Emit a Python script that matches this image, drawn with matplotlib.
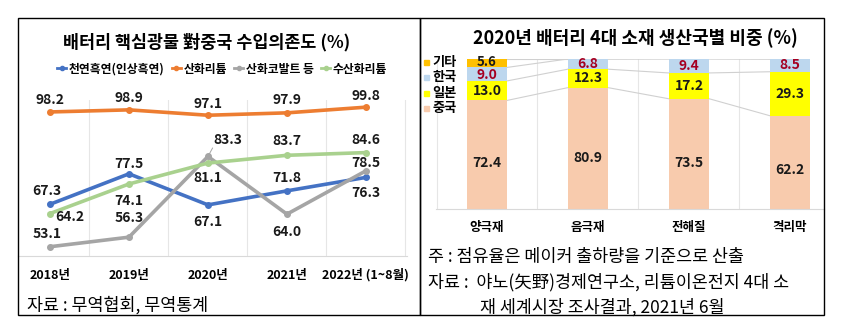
import matplotlib
matplotlib.use("Agg")
import matplotlib.pyplot as plt
from matplotlib.lines import Line2D
from matplotlib.patches import Rectangle
import numpy as np

plt.rcParams['font.family'] = ['Noto Sans CJK KR', 'DejaVu Sans']

# --- 왼쪽: 배터리 핵심광물 對중국 수입의존도 ---
years = ["2018년", "2019년", "2020년", "2021년", "2022년 (1~8월)"]
graphite = [67.3, 77.5, 67.1, 71.8, 76.3]
li_oxide = [98.2, 98.9, 97.1, 97.9, 99.8]
cobalt = [53.1, 56.3, 83.3, 64.0, 78.5]
li_hydroxide = [64.2, 74.1, 81.1, 83.7, 84.6]
line_names = ["천연흑연(인상흑연)", "산화리튬", "산화코발트 등", "수산화리튬"]

# --- 오른쪽: 2020년 배터리 4대 소재 생산국별 비중 ---
materials = ["양극재", "음극재", "전해질", "격리막"]
china = [72.4, 80.9, 73.5, 62.2]
japan = [13.0, 12.3, 17.2, 29.3]
korea = [9.0, 6.8, 9.4, 8.5]
others = [5.6, 0.0, 0.0, 0.0]
bar_names = ["중국", "일본", "한국", "기타"]

W, H = 860, 333
fig = plt.figure(figsize=(W / 100, H / 100), dpi=100)


def px_axes(x0, y0, x1, y1):
    # 픽셀 좌표(위에서부터)로 axes 생성
    return fig.add_axes([x0 / W, 1 - y1 / H, (x1 - x0) / W, (y1 - y0) / H])


# 패널 테두리
for x0, x1 in [(18, 420), (420, 824)]:
    fig.patches.append(Rectangle((x0 / W, 1 - 315 / H), (x1 - x0) / W, (315 - 18) / H,
                                 transform=fig.transFigure, fill=False,
                                 edgecolor="black", linewidth=1.0))

# ----- 왼쪽 선 그래프 -----
ax = px_axes(18, 100, 407, 256)
x = np.arange(len(years))
colors = ["#4472C4", "#ED7D31", "#A5A5A5", "#A9D18E"]
series = [graphite, li_oxide, cobalt, li_hydroxide]
for ys, c in zip(series, colors):
    ax.plot(x, ys, color=c, linewidth=2.6, marker="o", markersize=4)
ax.set_xlim(-0.405, 4.52)
ax.set_ylim(50, 102.2)
for g in [0.5, 1.5, 2.5, 3.5, 4.5]:
    ax.axvline(g, color="#E6E6E6", linewidth=0.8, zorder=0)
for s in ["top", "left", "right"]:
    ax.spines[s].set_visible(False)
ax.spines["bottom"].set_color("#D9D9D9")
ax.set_yticks([])
ax.set_xticks(x)
ax.set_xticklabels(years, fontsize=9, fontweight="bold")
ax.tick_params(axis="x", length=0, pad=9)

lab = dict(fontsize=10, fontweight="bold", ha="center", va="center", color="#1a1a1a")
# 라벨 오프셋(픽셀)
offs = {
    0: [(-3, 13), (0, 10), (0, -17), (0, 13), (0, -16)],
    1: [(0, 12), (0, 12), (0, 11), (0, 13), (0, 11)],
    2: [(-3, 13), (0, 19), (20, 16), (0, -18), (0, 8)],
    3: [(20, -3), (0, -17), (0, -15), (0, 14), (0, 13)],
}
for si, ys in enumerate(series):
    for i, v in enumerate(ys):
        dx, dy = offs[si][i]
        ax.annotate(f"{v:.1f}", (x[i], v), xytext=(dx, dy), textcoords="offset pixels", **lab)
# 83.3 지시선
ax.annotate("", (x[2], cobalt[2]), xytext=(6, 11), textcoords="offset pixels",
            arrowprops=dict(arrowstyle="-", color="#A5A5A5", linewidth=0.7))

fig.text(207 / W, 1 - 42 / H, "배터리 핵심광물 對중국 수입의존도 (%)", fontsize=12.5,
         fontweight="bold", ha="center", va="center")
handles = [Line2D([0], [0], color=c, linewidth=2, marker="o", markersize=3) for c in colors]
fig.legend(handles, line_names, loc="center", bbox_to_anchor=(222 / W, 1 - 69 / H),
           ncol=4, frameon=False, handlelength=0.8, handletextpad=0.2,
           columnspacing=0.6, prop=dict(weight="bold", size=8.5))
fig.text(27 / W, 1 - 305 / H, "자료 : 무역협회, 무역통계", fontsize=12.5,
         ha="left", va="center")

# ----- 오른쪽 누적 막대 -----
bx = px_axes(436, 59, 824, 209)
xb = np.arange(len(materials))
bw = 0.4
stack = [china, japan, korea, others]
bcols = ["#F8CBAD", "#FFFF00", "#BDD7EE", "#FFC000"]
bottom = np.zeros(len(materials))
tops = []
for vals, c in zip(stack, bcols):
    vals = np.array(vals)
    bx.bar(xb, vals, bw, bottom=bottom, color=c, zorder=2)
    bottom = bottom + vals
    tops.append(bottom.copy())
# 계열선
for t in tops:
    for i in range(len(materials) - 1):
        bx.plot([xb[i] + bw / 2, xb[i + 1] - bw / 2], [t[i], t[i + 1]],
                color="#D0D0D0", linewidth=0.8, zorder=1)
# 값 라벨
lbl_col = ["#1a1a1a", "#1a1a1a", "#A50021", "#1a1a1a"]
nudge = [0, 0, -0.6, 0.6]
base = np.zeros(len(materials))
for k, vals in enumerate(stack):
    for i, v in enumerate(vals):
        if v > 0:
            yc = base[i] + v / 2
            if k == 0:
                yc = base[i] + v * 0.42
            fs = 10 if v > 6 else 9.5
            bx.text(xb[i], yc + (nudge[k] if i == 0 else 0), f"{v:.1f}", ha="center",
                    va="center", fontsize=fs, fontweight="bold", color=lbl_col[k], zorder=3)
    base = base + np.array(vals)
bx.set_xlim(-0.505, 3.337)
bx.set_ylim(0, 100)
for g in [-0.5, 0.5, 1.5, 2.5]:
    bx.axvline(g, color="#E6E6E6", linewidth=0.8, zorder=0)
for s in ["top", "left", "right"]:
    bx.spines[s].set_visible(False)
bx.spines["bottom"].set_color("#D9D9D9")
bx.set_yticks([])
bx.set_xticks(xb)
bx.set_xticklabels(materials, fontsize=9, fontweight="bold")
bx.tick_params(axis="x", length=0, pad=9)

fig.text(635 / W, 1 - 38 / H, "2020년 배터리 4대 소재 생산국별 비중 (%)", fontsize=13,
         fontweight="bold", ha="center", va="center")
# 범례 (위에서부터 기타, 한국, 일본, 중국)
for j, (name, c) in enumerate(zip(bar_names[::-1], bcols[::-1])):
    yy = 62 + j * 15.5
    fig.patches.append(Rectangle((424 / W, 1 - (yy + 2.5) / H), 5 / W, 5 / H,
                                 transform=fig.transFigure, color=c))
    fig.text(432 / W, 1 - yy / H, name, fontsize=9.5, fontweight="bold",
             ha="left", va="center")

fig.text(428 / W, 1 - 257 / H, "주 : 점유율은 메이커 출하량을 기준으로 산출",
         fontsize=12.5, ha="left", va="center")
fig.text(428 / W, 1 - 282 / H, "자료 :  야노(矢野)경제연구소, 리튬이온전지 4대 소",
         fontsize=12.5, ha="left", va="center")
fig.text(480 / W, 1 - 307 / H, "재 세계시장 조사결과, 2021년 6월",
         fontsize=12.5, ha="left", va="center")

fig.savefig("out.png", dpi=100)
